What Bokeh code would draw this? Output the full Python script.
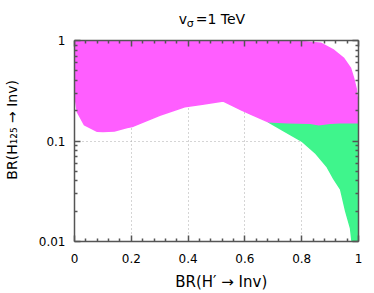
from bokeh.plotting import figure
from bokeh.models import Range1d, LogAxis, LinearAxis, FixedTicker, PrintfTickFormatter, Grid
from bokeh.layouts import column
from bokeh.core.properties import value
from bokeh.embed import file_html
from bokeh.resources import INLINE

# ---- data ----
# magenta region: upper boundary (left -> right) then lower boundary (right -> left)
mag_upper_x = [-0.007, 0.3, 0.6, 0.8, 0.867, 0.913, 0.948, 0.972, 0.983, 0.992, 0.997, 0.998]
mag_upper_y = [1.04, 1.03, 1.01, 0.98, 0.94, 0.80, 0.665, 0.53, 0.42, 0.33, 0.25, 0.152]
mag_lower_x = [0.998, 0.95, 0.90, 0.86, 0.83, 0.75, 0.682, 0.62, 0.587, 0.524, 0.45, 0.388, 0.30,
               0.203, 0.185, 0.14, 0.10, 0.08, 0.035, 0.01, 0.0, -0.007]
mag_lower_y = [0.152, 0.153, 0.150, 0.145, 0.150, 0.152, 0.155, 0.185, 0.204, 0.25, 0.232, 0.219, 0.18,
               0.139, 0.136, 0.126, 0.124, 0.125, 0.145, 0.195, 0.30, 0.50]
# green region: top edge (left -> right), then lower-left boundary (bottom -> up)
grn_top_x = [0.682, 0.75, 0.83, 0.86, 0.90, 0.95, 1.007]
grn_top_y = [0.155, 0.152, 0.150, 0.145, 0.150, 0.153, 0.152]
grn_low_x = [1.007, 0.979, 0.972, 0.955, 0.937, 0.913, 0.89, 0.85, 0.80, 0.74, 0.682]
grn_low_y = [0.009, 0.009, 0.0135, 0.020, 0.033, 0.042, 0.055, 0.075, 0.10, 0.125, 0.155]

x_ticks = [0, 0.2, 0.4, 0.6, 0.8, 1]
x_minor = [0.04, 0.08, 0.12, 0.16, 0.24, 0.28, 0.32, 0.36, 0.44, 0.48, 0.52, 0.56,
           0.64, 0.68, 0.72, 0.76, 0.84, 0.88, 0.92, 0.96]
y_ticks = [0.01, 0.1, 1]
y_minor = [0.02, 0.03, 0.04, 0.05, 0.06, 0.07, 0.08, 0.09, 0.2, 0.3, 0.4, 0.5, 0.6, 0.7, 0.8, 0.9]

title_parts = ["v", "σ", "=1 TeV"]          # v with subscript sigma
y_label = "BR(H₁₂₅ → Inv)"
x_label = "BR(H′ → Inv)"

MAGENTA = "#ff5eff"
GREEN = "#3ff58c"
FONT = "DejaVu Sans"
AX = "#555555"
NBSP = "\u00a0"

TOTAL_W, TOTAL_H = 374, 293
TITLE_H = 30
BL, BR = 72, 16
FW = TOTAL_W - BL - BR          # frame width in px

# ---------------- title strip (frame aligned with the plot frame) ----------------
tf = figure(width=TOTAL_W, height=TITLE_H, x_range=Range1d(0, FW), y_range=Range1d(0, TITLE_H),
            output_backend="svg", toolbar_location=None,
            min_border_left=BL, min_border_right=BR, min_border_top=0, min_border_bottom=0,
            x_axis_location=None, y_axis_location=None)
tf.outline_line_color = None
tf.grid.visible = False
tf.text(x=[177 - BL, 194 - BL], y=[TITLE_H - 18, TITLE_H - 18], text=[title_parts[0], title_parts[2]],
        text_font=value(FONT), text_font_size=value("14px"), text_baseline="alphabetic",
        text_align="left", text_color="black")
tf.text(x=[185 - BL], y=[TITLE_H - 22.5], text=[title_parts[1]],
        text_font=value(FONT), text_font_size=value("11px"), text_baseline="alphabetic",
        text_align="left", text_color="black")

# ---------------- main plot ----------------
p = figure(width=TOTAL_W, height=TOTAL_H - TITLE_H, x_range=Range1d(0, 1), y_range=Range1d(0.01, 1),
           y_axis_type="log", output_backend="svg", toolbar_location=None,
           min_border_left=BL, min_border_right=BR, min_border_top=40 - TITLE_H,
           min_border_bottom=50, x_axis_location=None, y_axis_location=None)
p.outline_line_color = None
p.background_fill_color = "white"
p.border_fill_color = "white"

p.patch(grn_top_x + grn_low_x, grn_top_y + grn_low_y, fill_color=GREEN, line_color=GREEN, line_width=1.5)
p.patch(mag_upper_x + mag_lower_x, mag_upper_y + mag_lower_y, fill_color=MAGENTA, line_color=MAGENTA, line_width=1.5)

fmt = PrintfTickFormatter(format="%g")
blank = PrintfTickFormatter(format="")

def style(ax, labels=True):
    ax.axis_line_color = AX
    ax.axis_line_width = 1.5
    ax.major_tick_in = 6
    ax.major_tick_out = 0
    ax.minor_tick_in = 3
    ax.minor_tick_out = 0
    ax.major_tick_line_color = AX
    ax.minor_tick_line_color = AX
    ax.major_tick_line_width = 1.5
    ax.minor_tick_line_width = 1.5
    ax.major_label_text_font = FONT
    ax.major_label_text_font_size = "12px"
    ax.major_label_text_color = "black"
    if not labels:
        ax.major_label_text_font_size = "1px"
        ax.major_label_standoff = 0

xb = LinearAxis(ticker=FixedTicker(ticks=x_ticks, minor_ticks=x_minor), formatter=fmt)
style(xb)
xb.major_label_standoff = 12
xb.axis_label = NBSP * 2 + x_label
xb.axis_label_text_font = FONT
xb.axis_label_text_font_size = "15px"
xb.axis_label_text_font_style = "normal"
xb.axis_label_text_color = "black"
xb.axis_label_standoff = 7
p.add_layout(xb, "below")

xt = LinearAxis(ticker=FixedTicker(ticks=x_ticks, minor_ticks=x_minor), formatter=blank)
style(xt, labels=False)
p.add_layout(xt, "above")

yl = LogAxis(ticker=FixedTicker(ticks=y_ticks, minor_ticks=y_minor), formatter=fmt)
style(yl)
yl.major_label_standoff = 9
yl.axis_label = NBSP * 5 + y_label
yl.axis_label_text_font = FONT
yl.axis_label_text_font_size = "14px"
yl.axis_label_text_font_style = "normal"
yl.axis_label_text_color = "black"
yl.axis_label_standoff = 16
p.add_layout(yl, "left")

yr = LogAxis(ticker=FixedTicker(ticks=y_ticks, minor_ticks=y_minor), formatter=blank)
style(yr, labels=False)
p.add_layout(yr, "right")

p.xgrid.visible = False
p.ygrid.visible = False
gx = Grid(dimension=0, ticker=FixedTicker(ticks=x_ticks[1:-1]), grid_line_color="#aaaaaa",
          grid_line_dash="1 3", grid_line_width=1)
gy = Grid(dimension=1, ticker=FixedTicker(ticks=[0.1]), grid_line_color="#aaaaaa",
          grid_line_dash="1 3", grid_line_width=1)
p.add_layout(gx)
p.add_layout(gy)

layout = column(tf, p)
open("out.html", "w").write(file_html(layout, INLINE))
